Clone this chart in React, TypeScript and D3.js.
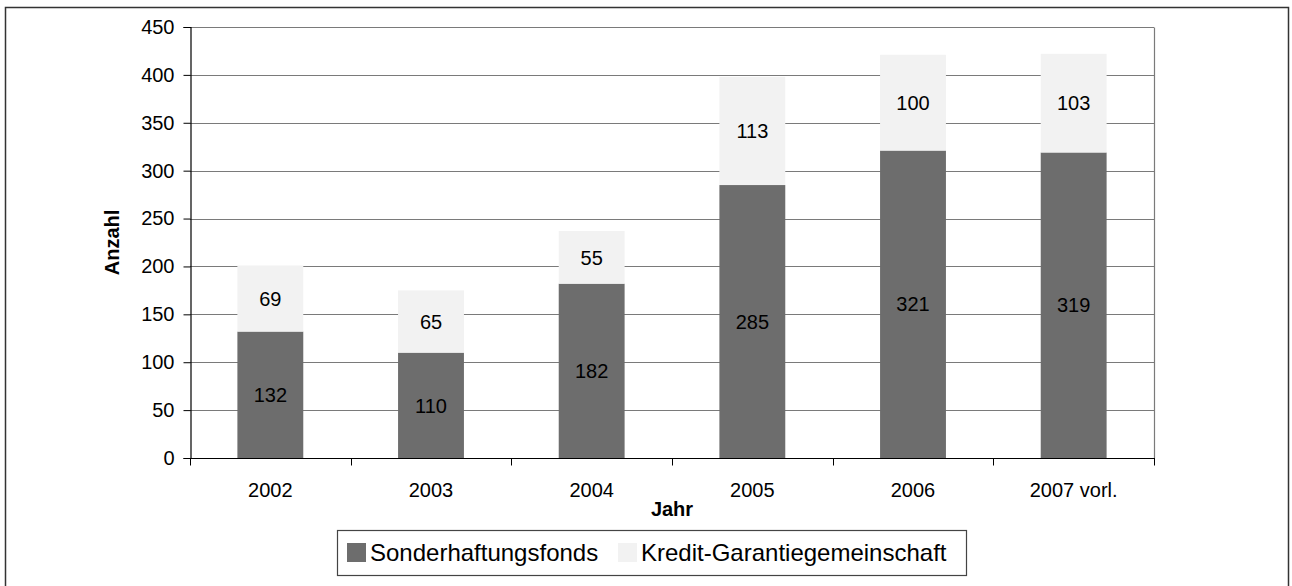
import React, { useEffect, useRef } from "react";
import * as d3 from "d3";

// data
const years = ["2002", "2003", "2004", "2005", "2006", "2007 vorl."];
const sonderhaftungsfonds = [132, 110, 182, 285, 321, 319];
const kreditGarantie = [69, 65, 55, 113, 100, 103];
const seriesNames = ["Sonderhaftungsfonds", "Kredit-Garantiegemeinschaft"];
const seriesColors = ["#6d6d6d", "#f2f2f2"];
const yTicks = [0, 50, 100, 150, 200, 250, 300, 350, 400, 450];

const App = () => {
  const svgRef = useRef<SVGSVGElement>(null);

  useEffect(() => {
    const width = 1292;
    const height = 586;
    const margin = { left: 190, right: 138, top: 27, bottom: 128 };
    const font = "'Liberation Sans', Arial, sans-serif";

    const svg = d3.select(svgRef.current);
    svg.selectAll("*").remove();
    svg.attr("width", width).attr("height", height);

    svg.append("rect")
      .attr("width", width).attr("height", height)
      .attr("fill", "#fff");

    // outer frame (bottom edge runs off the picture)
    svg.append("rect")
      .attr("x", 5.5).attr("y", 7.5)
      .attr("width", 1283).attr("height", 600)
      .attr("fill", "none")
      .attr("stroke", "#333")
      .attr("stroke-width", 1.5);

    const x = d3.scaleBand()
      .domain(years)
      .range([margin.left, width - margin.right])
      .padding(0);

    const y = d3.scaleLinear()
      .domain([0, 450])
      .range([height - margin.bottom, margin.top]);

    const barW = x.bandwidth() * 0.41;

    // gridlines
    svg.append("g")
      .selectAll("line")
      .data(yTicks.filter((t) => t > 0))
      .join("line")
      .attr("x1", margin.left)
      .attr("x2", width - margin.right)
      .attr("y1", (d) => Math.round(y(d)) + 0.5)
      .attr("y2", (d) => Math.round(y(d)) + 0.5)
      .attr("stroke", "#7a7a7a")
      .attr("stroke-width", 1.2);

    // right plot border
    svg.append("line")
      .attr("x1", width - margin.right + 0.5)
      .attr("x2", width - margin.right + 0.5)
      .attr("y1", Math.round(y(450)) + 0.5)
      .attr("y2", y(0))
      .attr("stroke", "#7a7a7a")
      .attr("stroke-width", 1.2);

    // stacked bars
    const stack = years.map((yr, i) => ({
      year: yr,
      parts: [
        { v: sonderhaftungsfonds[i], y0: 0, y1: sonderhaftungsfonds[i], s: 0 },
        {
          v: kreditGarantie[i],
          y0: sonderhaftungsfonds[i],
          y1: sonderhaftungsfonds[i] + kreditGarantie[i],
          s: 1,
        },
      ],
    }));

    const groups = svg.append("g")
      .selectAll("g")
      .data(stack)
      .join("g")
      .attr("transform", (d) => `translate(${(x(d.year) as number) + x.bandwidth() / 2},0)`);

    groups.selectAll("rect")
      .data((d) => d.parts)
      .join("rect")
      .attr("x", -barW / 2)
      .attr("width", barW)
      .attr("y", (d) => y(d.y1))
      .attr("height", (d) => y(d.y0) - y(d.y1))
      .attr("fill", (d) => seriesColors[d.s]);

    groups.selectAll("text")
      .data((d) => d.parts)
      .join("text")
      .attr("x", 0)
      .attr("y", (d) => (y(d.y0) + y(d.y1)) / 2)
      .attr("dy", "0.36em")
      .attr("text-anchor", "middle")
      .attr("font-family", font)
      .attr("font-size", 20)
      .attr("fill", "#000")
      .text((d) => d.v);

    // y axis
    const yAxis = svg.append("g")
      .attr("transform", `translate(${margin.left + 0.5},0)`)
      .call(
        d3.axisLeft(y)
          .tickValues(yTicks)
          .tickSize(7)
          .tickPadding(9)
      );
    yAxis.select(".domain").attr("stroke", "#000").attr("stroke-width", 1.2);
    yAxis.selectAll(".tick line").attr("stroke", "#000");
    yAxis.selectAll(".tick text")
      .attr("font-family", font)
      .attr("font-size", 20)
      .attr("fill", "#000");

    // x axis: ticks sit at category boundaries
    const baseY = Math.round(y(0)) + 0.5;
    svg.append("line")
      .attr("x1", margin.left)
      .attr("x2", width - margin.right + 1)
      .attr("y1", baseY)
      .attr("y2", baseY)
      .attr("stroke", "#000")
      .attr("stroke-width", 1.2);

    const bounds = years.map((yr) => x(yr) as number).concat([width - margin.right]);
    svg.append("g")
      .selectAll("line")
      .data(bounds)
      .join("line")
      .attr("x1", (d) => Math.round(d) + 0.5)
      .attr("x2", (d) => Math.round(d) + 0.5)
      .attr("y1", baseY)
      .attr("y2", baseY + 7)
      .attr("stroke", "#000");

    svg.append("g")
      .selectAll("text")
      .data(years)
      .join("text")
      .attr("x", (d) => (x(d) as number) + x.bandwidth() / 2)
      .attr("y", 497)
      .attr("text-anchor", "middle")
      .attr("font-family", font)
      .attr("font-size", 20)
      .text((d) => d);

    // axis titles
    svg.append("text")
      .attr("x", (margin.left + width - margin.right) / 2)
      .attr("y", 516)
      .attr("text-anchor", "middle")
      .attr("font-family", font)
      .attr("font-size", 20)
      .attr("font-weight", "bold")
      .text("Jahr");

    svg.append("text")
      .attr("transform", `translate(119,${(y(0) + y(450)) / 2}) rotate(-90)`)
      .attr("text-anchor", "middle")
      .attr("font-family", font)
      .attr("font-size", 20)
      .attr("font-weight", "bold")
      .text("Anzahl");

    // legend
    const legend = svg.append("g");
    legend.append("rect")
      .attr("x", 337.5).attr("y", 530.5)
      .attr("width", 629).attr("height", 45)
      .attr("fill", "#fff")
      .attr("stroke", "#444")
      .attr("stroke-width", 1.2);

    const legendItems = [
      { name: seriesNames[0], color: seriesColors[0], x: 347 },
      { name: seriesNames[1], color: seriesColors[1], x: 618 },
    ];
    legendItems.forEach((it) => {
      legend.append("rect")
        .attr("x", it.x).attr("y", 543)
        .attr("width", 19).attr("height", 19)
        .attr("fill", it.color);
      legend.append("text")
        .attr("x", it.x + 23)
        .attr("y", 561)
        .attr("font-family", font)
        .attr("font-size", 24)
        .text(it.name);
    });
  }, []);

  return (
    <div style={{ position: "absolute", left: 0, top: 0 }}>
      <svg ref={svgRef} style={{ display: "block" }}></svg>
    </div>
  );
};

export default App;
